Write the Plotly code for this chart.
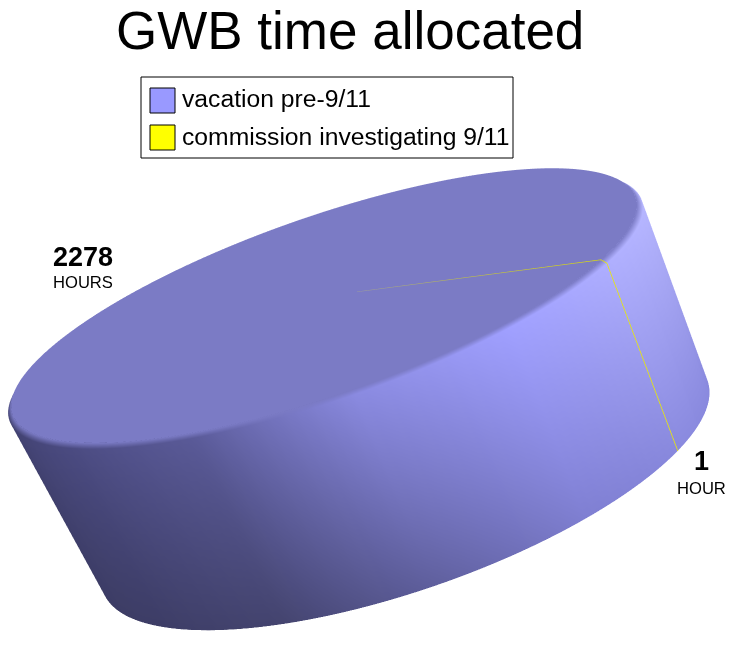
import numpy as np
import plotly.graph_objects as go

title = "GWB time allocated"
categories = ["vacation pre-9/11", "commission investigating 9/11"]
hours = [2278, 1]
legend_colors = ["#9999ff", "#ffff00"]
value_labels = [("2278", "HOURS"), ("1", "HOUR")]

W, H = 735, 647

# pie solid, in data units (radius 1)
height = 0.612
start_angle = -33.0
taper = 0.956          # fakes the perspective of the original
bottom_depth = 1.22    # near edge of the base looks rounder in the original
bottom_shift = 0.052
apex = (0.107, 0.02)
box = 1.25

# shading of the side wall, sampled round the rim
shade_angles = [-180, -150, -120, -90, -60, -30, 0, 30, 90, 150, 180]
shade_top = ["#40406e", "#4a4a80", "#5a5a98", "#8a8ae0", "#a0a0ff", "#b0b0ff", "#b8b8ff", "#b8b8ff",
             "#7b7bc5", "#50508a", "#40406e"]
shade_bottom = ["#3c3c64", "#3d3d66", "#44446f", "#60609f", "#7f7fd2", "#8a8adf", "#8888dd", "#8888dd",
                "#7b7bc5", "#50508a", "#3c3c64"]
top_color = "#7b7bc5"
levels = [(0.985, 1.0, 0.0, height), (1.0, 1.0, 0.0, height - 0.016), (taper, taper * bottom_depth, bottom_shift, 0.0)]


def rgb(hex_color):
    return np.array([int(hex_color[i:i + 2], 16) for i in (1, 3, 5)], dtype=float)


def css(c):
    return "rgb(%d,%d,%d)" % tuple(np.round(c))


def shade(angle_deg, stops):
    a = ((angle_deg + 180) % 360) - 180
    cols = np.array([rgb(c) for c in stops])
    return [np.interp(a, shade_angles, cols[:, i]) for i in range(3)]


def ring_point(level, t):
    r, ry, dx, z = level
    return dx + r * np.cos(t), ry * np.sin(t), z


def slice_mesh(a0, a1, name, flat=None):
    n = max(2, int(abs(a1 - a0)))
    angles = np.linspace(a0, a1, n + 1)
    rad = np.radians(angles)
    xs, ys, zs, cols = [apex[0]], [apex[1]], [height], []
    cols.append("#8f8fa0" if flat else top_color)
    for lev, level in enumerate(levels):
        for a, t in zip(angles, rad):
            x, y, z = ring_point(level, t)
            xs.append(x)
            ys.append(y)
            zs.append(z)
            if flat:
                cols.append(flat)
            elif lev == 0:
                cols.append(top_color)
            elif lev == 1:
                cols.append(css(shade(a, shade_top)))
            else:
                cols.append(css(shade(a, shade_bottom)))
    m = n + 1
    i, j, k = [], [], []
    for s in range(n):
        i.append(0)
        j.append(1 + s)
        k.append(2 + s)
        for lev in range(len(levels) - 1):
            p = 1 + lev * m + s
            i += [p, p + 1]
            j += [p + 1, p + 1 + m]
            k += [p + m, p + m]
    return go.Mesh3d(x=xs, y=ys, z=zs, i=i, j=j, k=k, vertexcolor=cols, name=name,
                     lighting=dict(ambient=1, diffuse=0, specular=0, roughness=1, fresnel=0),
                     hoverinfo="name", showscale=False)


fig = go.Figure()

# thin slice starts at start_angle, the rest goes round
total = sum(hours)
thin = hours[1] / total * 360
fig.add_trace(slice_mesh(start_angle + thin, start_angle + 360, categories[0]))
fig.add_trace(slice_mesh(start_angle, start_angle + thin, categories[1], flat="#e6e600"))

# the 1 hour slice is under a pixel wide, so trace it with a line as well
mid = np.radians(start_angle + thin / 2)
edge = [ring_point(level, mid) for level in levels]
half_way = tuple((a + b) / 2 for a, b in zip((apex[0], apex[1], height), edge[0]))
edge_pts = [(apex[0], apex[1], height), half_way] + edge
fig.add_trace(go.Scatter3d(
    x=[p[0] for p in edge_pts], y=[p[1] for p in edge_pts], z=[p[2] for p in edge_pts],
    mode="lines", name=categories[1], hoverinfo="name",
    line=dict(width=2, color=["#9a9aa0", "#c4c43c", "#e0e000", "#eeee00", "#eeee00"]),
))

# camera: low elevation and rolled so the disc climbs to the right
# orthographic size comes from the aspect ratio, not the eye distance
elev = np.radians(15.4)
roll = np.radians(19.25)
zoom = 2.07
px_per_scene_unit = 322.0
distance = 4.0
right0 = np.array([1.0, 0.0, 0.0])
up0 = np.array([0.0, np.sin(elev), np.cos(elev)])
back = np.array([0.0, -np.cos(elev), np.sin(elev)])
up = np.cos(roll) * up0 + np.sin(roll) * right0
right = np.cos(roll) * right0 - np.sin(roll) * up0
center = (11 * right + 75 * up) / px_per_scene_unit
eye = center + distance * back


def vec(v):
    return dict(x=float(v[0]), y=float(v[1]), z=float(v[2]))


no_axis = dict(visible=False, showspikes=False)
fig.update_layout(
    width=W, height=H,
    margin=dict(l=0, r=0, t=0, b=0),
    paper_bgcolor="white",
    showlegend=False,
    scene=dict(
        domain=dict(x=[0, 1], y=[0, 1]),
        xaxis=dict(range=[-box, box], **no_axis),
        yaxis=dict(range=[-box, box], **no_axis),
        zaxis=dict(range=[0, height], **no_axis),
        aspectmode="manual",
        aspectratio=dict(x=zoom * box, y=zoom * box, z=zoom * height / 2),
        dragmode="orbit",
        camera=dict(eye=vec(eye), center=vec(center), up=vec(up),
                    projection=dict(type="orthographic")),
    ),
)


def px(x):
    return x / W


def py(y):
    return 1 - y / H


def label(text, x, y, size, family="Liberation Sans", anchor="left", bold=False):
    fig.add_annotation(text="<b>%s</b>" % text if bold else text, x=px(x), y=py(y),
                       xref="paper", yref="paper", xanchor=anchor, yanchor="middle",
                       showarrow=False, font=dict(family=family, size=size, color="black"))


label(title, 350, 30, 53, anchor="center")

# legend box
fig.add_shape(type="rect", xref="paper", yref="paper", x0=px(141), x1=px(513), y0=py(158), y1=py(77),
              line=dict(color="black", width=1), fillcolor="white")
for row, (cat, col) in enumerate(zip(categories, legend_colors)):
    top = 88 + row * 37
    fig.add_shape(type="rect", xref="paper", yref="paper", x0=px(150), x1=px(175),
                  y0=py(top + 25), y1=py(top), line=dict(color="black", width=1), fillcolor=col)
    label(cat, 180, top + 11, 24.7)

label(value_labels[0][0], 83, 257, 27, anchor="center", bold=True)
label(value_labels[0][1], 83, 282, 16.6, anchor="center")
label(value_labels[1][0], 701, 461, 27, anchor="center", bold=True)
label(value_labels[1][1], 701, 488, 16.6, anchor="center")

fig.write_html("out.html", config=dict(displayModeBar=False),
               post_script="document.body.style.margin='0';")
